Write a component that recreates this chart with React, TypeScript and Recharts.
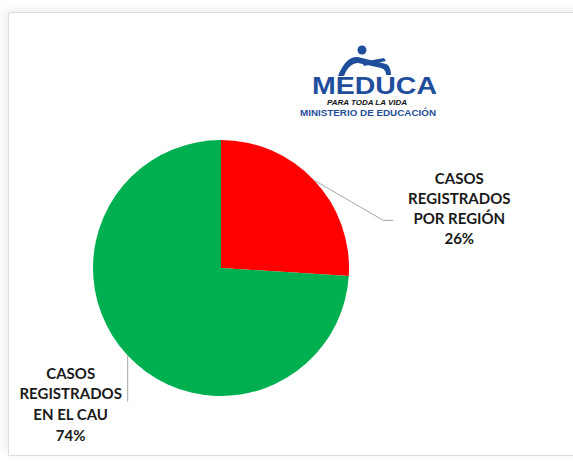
import React from "react";
import { PieChart, Pie, Cell } from "recharts";

const categories = ["CASOS REGISTRADOS POR REGIÓN", "CASOS REGISTRADOS EN EL CAU"];
const values = [26, 74];
const colors = ["#ff0000", "#00b050"];
const labelLines = [
  ["CASOS", "REGISTRADOS", "POR REGIÓN", "26%"],
  ["CASOS", "REGISTRADOS", "EN EL CAU", "74%"],
];

const data = categories.map((name, i) => ({ name, value: values[i] }));

const RADIAN = Math.PI / 180;
const FONT = "Lato, 'Open Sans', sans-serif";

const renderLabel = (props: any) => {
  const { cx, cy, midAngle, outerRadius, index } = props;
  const sx = cx + outerRadius * Math.cos(-midAngle * RADIAN);
  const sy = cy + outerRadius * Math.sin(-midAngle * RADIAN);
  const lines = labelLines[index];
  if (index === 0) {
    const ex = sx + 69;
    const ey = sy + 40;
    const tx = sx + 145;
    const ty0 = sy + 4;
    return (
      <g key={`lbl-${index}`}>
        <polyline
          points={`${sx},${sy} ${ex},${ey} ${ex + 10},${ey}`}
          fill="none"
          stroke="#a6a6a6"
          strokeWidth={1}
        />
        {lines.map((t, i) => (
          <text
            key={i}
            x={tx}
            y={ty0 + i * 20}
            textAnchor="middle"
            fontFamily={FONT}
            fontWeight={700}
            fontSize={15}
            fill="#1a1a1a"
          >
            {t}
          </text>
        ))}
      </g>
    );
  }
  const ex = sx;
  const ey = sy + 46;
  const tx = sx - 57;
  const ty0 = sy + 23;
  return (
    <g key={`lbl-${index}`}>
      <polyline points={`${sx},${sy} ${ex},${ey}`} fill="none" stroke="#a6a6a6" strokeWidth={1} />
      {lines.map((t, i) => (
        <text
          key={i}
          x={tx}
          y={ty0 + i * 20.7}
          textAnchor="middle"
          fontFamily={FONT}
          fontWeight={700}
          fontSize={15}
          fill="#1a1a1a"
        >
          {t}
        </text>
      ))}
    </g>
  );
};

export default function App() {
  return (
    <div
      style={{
        position: "absolute",
        left: 0,
        top: 0,
        width: 573,
        height: 465,
        overflow: "hidden",
        background: "#ffffff",
      }}
    >
      <div
        style={{
          position: "absolute",
          left: 8,
          top: 12,
          width: 600,
          height: 442,
          border: "1.5px solid #dcdcdc",
          borderTopLeftRadius: 2,
          boxShadow: "-3px -3px 10px rgba(0,0,0,0.07)",
          background: "#ffffff",
        }}
      />
      <div style={{ position: "absolute", left: 0, top: 0 }}>
        <PieChart width={573} height={465} margin={{ top: 0, right: 0, bottom: 0, left: 0 }}>
          <Pie
            data={data}
            dataKey="value"
            nameKey="name"
            cx={221}
            cy={268}
            outerRadius={128}
            startAngle={90}
            endAngle={-270}
            stroke="none"
            label={renderLabel}
            labelLine={false}
            isAnimationActive={false}
          >
            {data.map((d, i) => (
              <Cell key={d.name} fill={colors[i]} />
            ))}
          </Pie>
        </PieChart>
      </div>
      <svg
        width={573}
        height={465}
        style={{ position: "absolute", left: 0, top: 0, pointerEvents: "none" }}
      >
        <g>
          <circle cx={362} cy={50} r={4.5} fill="#1f4e9c" />
          <path
            d="M338,76 C343,63 350,56 358,57 L386,64 C389,65 391,69 391,75 L386,75 C386,71 384,69 381,68 L358,63 C352,63 347,68 344,76 Z"
            fill="#1f4e9c"
          />
          <path d="M362,62 L384,58 L386,61 L364,66 Z" fill="#1f4e9c" />
          <text
            x={312}
            y={94}
            textLength={125}
            lengthAdjust="spacingAndGlyphs"
            fontFamily="'Liberation Sans', Arial, sans-serif"
            fontWeight={700}
            fontSize={24}
            fill="#1f4e9c"
          >
            MEDUCA
          </text>
          <text
            x={327}
            y={105}
            textLength={80}
            lengthAdjust="spacingAndGlyphs"
            fontFamily="'Liberation Sans', Arial, sans-serif"
            fontWeight={700}
            fontStyle="italic"
            fontSize={6.5}
            fill="#111111"
          >
            PARA TODA LA VIDA
          </text>
          <text
            x={300}
            y={115.5}
            textLength={136}
            lengthAdjust="spacingAndGlyphs"
            fontFamily="'Liberation Sans', Arial, sans-serif"
            fontWeight={700}
            fontSize={9.5}
            fill="#1f4e9c"
          >
            MINISTERIO DE EDUCACIÓN
          </text>
        </g>
      </svg>
    </div>
  );
}
